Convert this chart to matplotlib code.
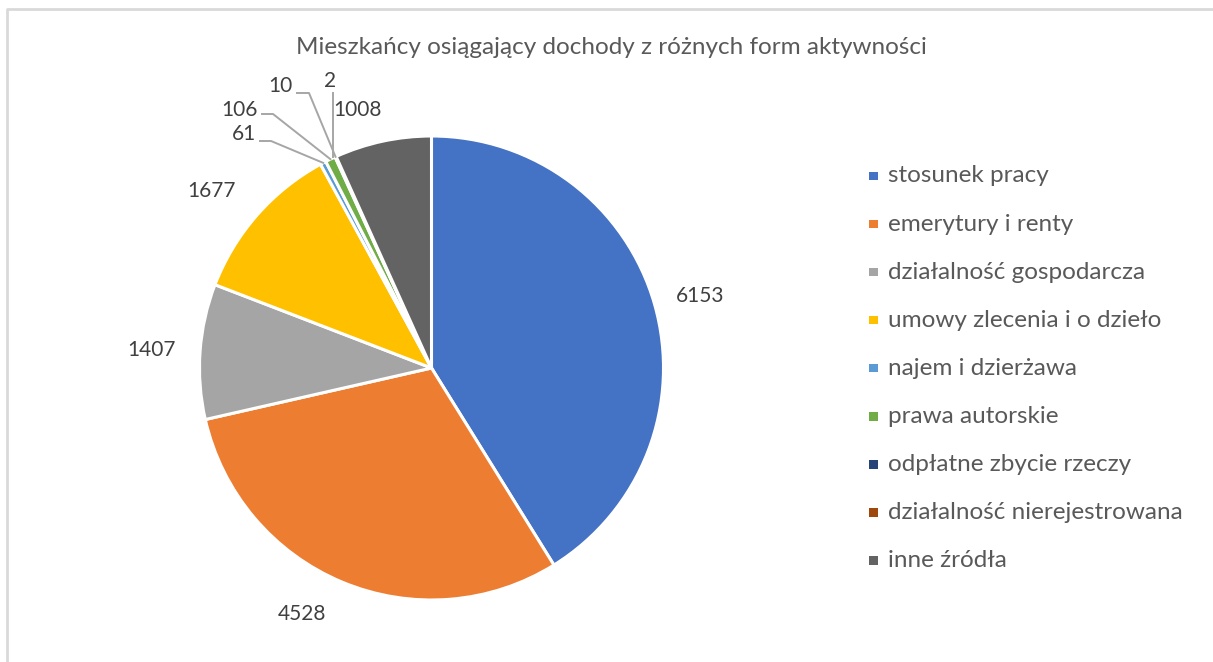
import numpy as np
import matplotlib
matplotlib.use('Agg')
import matplotlib.pyplot as plt
from matplotlib.patches import Rectangle

plt.rcParams['font.family'] = ['Lato', 'DejaVu Sans']

# data
categories = ['stosunek pracy', 'emerytury i renty', 'działalność gospodarcza',
              'umowy zlecenia i o dzieło', 'najem i dzierżawa', 'prawa autorskie',
              'odpłatne zbycie rzeczy', 'działalność nierejestrowana', 'inne źródła']
values = [6153, 4528, 1407, 1677, 61, 106, 10, 2, 1008]
colors = ['#4472C4', '#ED7D31', '#A5A5A5', '#FFC000', '#5B9BD5',
          '#70AD47', '#264478', '#9E480E', '#636363']
title = 'Mieszkańcy osiągający dochody z różnych form aktywności'

W, H = 1213, 662
fig = plt.figure(figsize=(W / 100, H / 100), dpi=100)
ax = fig.add_axes([0, 0, 1, 1])

def Y(y):
    # image row -> data y
    return H - y

cx, cy, R = 431.5, 368, 232

wedges, _ = ax.pie(values, colors=colors, startangle=90, counterclock=False,
                   center=(cx, Y(cy)), radius=R,
                   wedgeprops=dict(edgecolor='white', linewidth=2.2))
ax.set_xlim(0, W)
ax.set_ylim(0, H)
ax.set_aspect('auto')
ax.axis('off')

# border of chart area
ax.plot([7, 7, W + 5], [Y(H + 5), Y(9), Y(9)], color='#d9d9d9', lw=2, clip_on=False)

ax.text(W / 2 + 5, Y(48), title, ha='center', va='center', fontsize=17.5, color='#595959')

txt = dict(fontsize=15, color='#404040', va='center')
total = sum(values)

def edge_point(i):
    before = sum(values[:i])
    frac = (before + values[i] / 2) / total
    a = np.deg2rad(frac * 360)
    return cx + R * np.sin(a), cy - R * np.cos(a)

# big slices: plain labels outside
ax.text(700, Y(296), str(values[0]), ha='center', **txt)
ax.text(301.5, Y(614), str(values[1]), ha='center', **txt)
ax.text(152, Y(350), str(values[2]), ha='center', **txt)
ax.text(211.5, Y(191), str(values[3]), ha='center', **txt)
ax.text(357.5, Y(110), str(values[8]), ha='center', **txt)

# small slices with leader lines: (index, text right x, text y, line y, elbow x)
leaders = [(4, 256, 134.5, 141, 271), (5, 258, 110, 114, 273), (6, 293, 86, 93, 309)]
for i, tx, ty, ly, ex in leaders:
    px, py = edge_point(i)
    ax.text(tx, Y(ty), str(values[i]), ha='right', **txt)
    ax.plot([tx + 4, ex, px], [Y(ly), Y(ly), Y(py)], color='#a6a6a6', lw=1.4)

px, py = edge_point(7)
ax.text(330, Y(81), str(values[7]), ha='center', **txt)
ax.plot([333, 333], [Y(93), Y(py)], color='#a6a6a6', lw=1.4)

# legend
for k, (lab, col) in enumerate(zip(categories, colors)):
    yy = 176 + k * 48.1
    ax.add_patch(Rectangle((869, Y(yy + 4)), 8.5, 8.5, facecolor=col, edgecolor='none'))
    ax.text(888, Y(yy), lab, ha='left', va='center', fontsize=17.5, color='#595959')

fig.savefig('out.png', dpi=100)
